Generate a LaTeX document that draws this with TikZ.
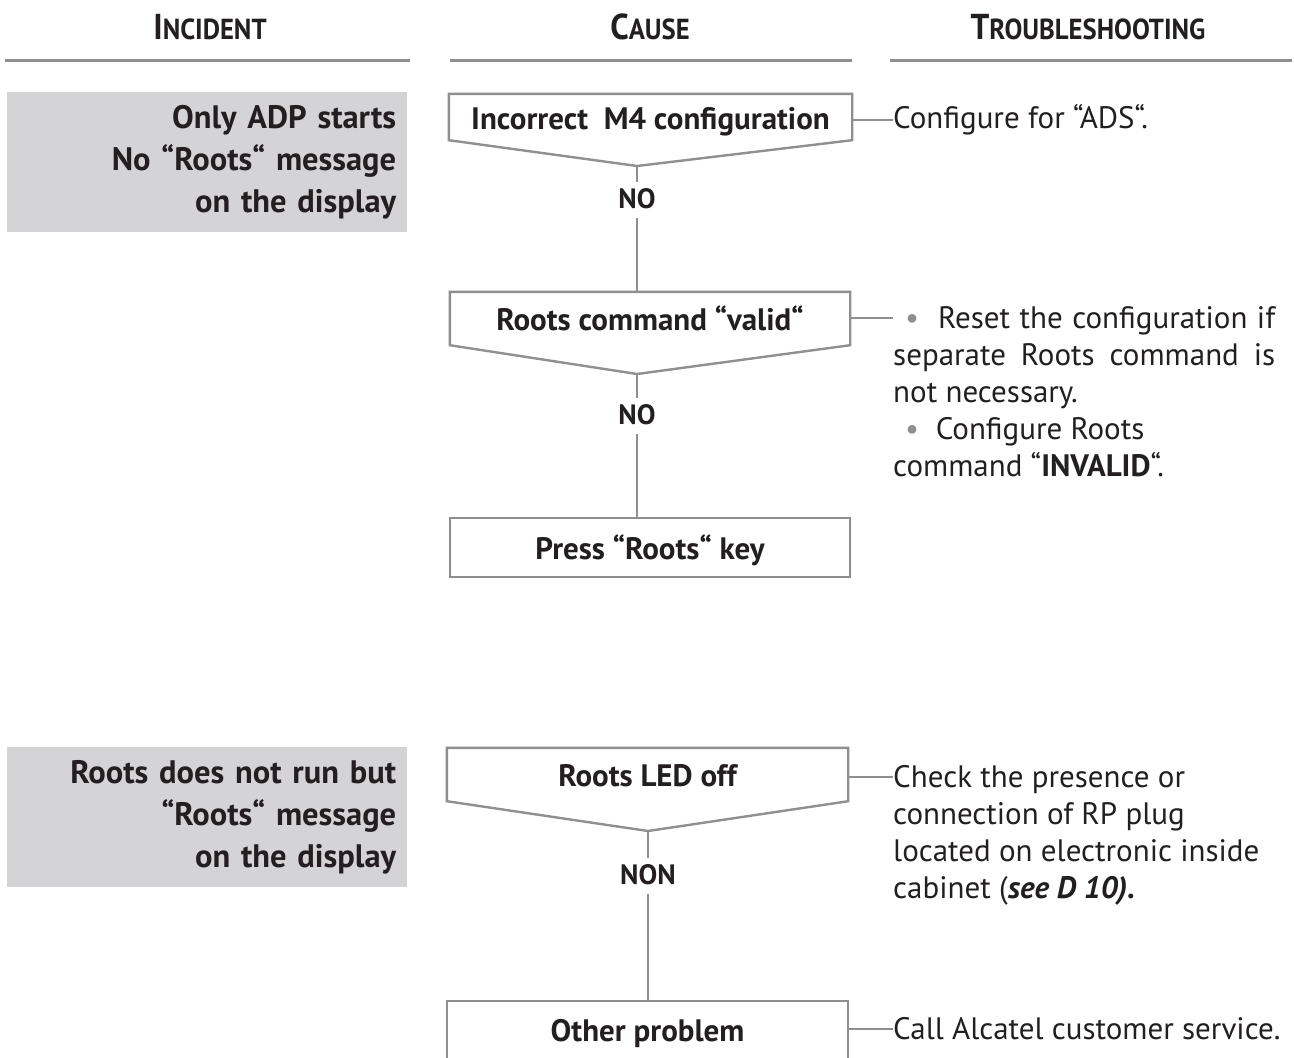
\documentclass[tikz,border=0pt]{standalone}
\usepackage{fontspec}
\usepackage{graphicx}
\setmainfont{PT Sans}
\usetikzlibrary{calc}
\definecolor{lg}{HTML}{8F8F91}
\definecolor{fillg}{HTML}{D4D4D6}
\definecolor{ink}{HTML}{231F20}
\newcommand{\fsz}[1]{\fontsize{#1}{#1}\selectfont}
\newcommand{\hdrtext}[2]{\scalebox{0.92}[1]{\bfseries\fsz{36}#1\fsz{29}#2}}
\begin{document}
\begin{tikzpicture}[x=1pt,y=-1pt,
  conn/.style={draw=lg,line width=2.4pt},
  boxline/.style={draw=lg,line width=2.4pt,line join=miter},
  rule/.style={draw=lg,line width=3pt},
  hdr/.style={text=ink,inner sep=0pt,anchor=base},
  inc/.style={fill=fillg,text=ink,font=\fontsize{32.5}{42}\selectfont\bfseries,align=right,text width=378pt,inner xsep=11pt,inner ysep=0pt,minimum height=140pt,anchor=north west},
  causebox/.style={text=ink,font=\fsz{31}\bfseries,inner sep=0pt,anchor=center,text height=26pt,text depth=2pt},
  lbl/.style={text=ink,font=\fsz{28}\bfseries,inner sep=0pt},
  tr/.style={text=ink,font=\fsz{31},inner sep=0pt},
  trblock/.style={text=ink,font=\fontsize{31}{37}\selectfont,inner sep=0pt,text width=382pt,align=justify,anchor=north west}
]
\useasboundingbox (0,0) rectangle (1294,1058);
% headers
\node[hdr] (h1) at (210,39) {\hdrtext{I}{NCIDENT}};
\node[hdr] (h2) at (650,39) {\hdrtext{C}{AUSE}};
\node[hdr] (h3) at (1088,39) {\hdrtext{T}{ROUBLESHOOTING}};
\draw[rule] (5,60) -- (410,60);
\draw[rule] (450,60) -- (852,60);
\draw[rule] (890,60) -- (1292,60);
% incidents
\node[inc] (i1) at (7,92) {Only ADP starts\\No “Roots“ message\\on the display};
\node[inc] (i2) at (7,747) {Roots does not run but\\“Roots“ message\\on the display};
% cause boxes (text)
\node[causebox,minimum width=403pt,minimum height=46pt] (c1) at (650.5,117) {Incorrect~ M4 configuration};
\node[causebox,minimum width=400pt,minimum height=53pt] (c2) at (650,318.5) {Roots command “valid“};
\node[causebox,minimum width=400pt,minimum height=59pt] (c3) at (650,547.5) {Press “Roots“ key};
\node[causebox,minimum width=401pt,minimum height=53pt] (c4) at (647.5,774.5) {Roots LED off};
\node[causebox,minimum width=401pt,minimum height=56pt] (c5) at (647.5,1029) {Other problem};
% tips
\coordinate (tip1) at (637,166);
\coordinate (tip2) at (637,374);
\coordinate (tip4) at (648,831);
% shapes
\draw[boxline] (c1.north west) -- (c1.north east) -- (c1.south east) -- (tip1) -- (c1.south west) -- cycle;
\draw[boxline] (c2.north west) -- (c2.north east) -- (c2.south east) -- (tip2) -- (c2.south west) -- cycle;
\draw[boxline] (c3.north west) rectangle (c3.south east);
\draw[boxline] (c4.north west) -- (c4.north east) -- (c4.south east) -- (tip4) -- (c4.south west) -- cycle;
\draw[boxline] ($(c5.south west)+(0,10)$) -- (c5.north west) -- (c5.north east) -- ($(c5.south east)+(0,10)$);
% labels
\node[lbl] (n1) at (637,199) {NO};
\node[lbl] (n2) at (637,415) {NO};
\node[lbl] (n4) at (648,875) {NON};
\draw[conn] (tip1) -- ($(n1.north)+(0,-7)$);
\draw[conn] ($(n1.south)+(0,9)$) -- (n1.south |- c2.north);
\draw[conn] (tip2) -- ($(n2.north)+(0,-7)$);
\draw[conn] ($(n2.south)+(0,9)$) -- (n2.south |- c3.north);
\draw[conn] (tip4) -- ($(n4.north)+(0,-7)$);
\draw[conn] ($(n4.south)+(0,9)$) -- (n4.south |- c5.north);
% troubleshooting texts
\node[tr,anchor=west] (t1) at (893,120) {Configure for “ADS“.};
\node[trblock] (t2) at (893,306) {\hspace*{12pt}{\color{lg}•}~ Reset the configuration if\linebreak separate Roots command is\linebreak not necessary.\\\hspace*{12pt}{\color{lg}•}~ Configure Roots\\command “\textbf{INVALID}“.};
\node[trblock] (t4) at (893,765) {Check the presence or\\connection of RP plug\\located on electronic inside\\cabinet (\textbf{\itshape see D 10).}};
\node[tr,anchor=west] (t5) at (893,1029) {Call Alcatel customer service.};
\coordinate (t2a) at (893,318);
\coordinate (t4a) at (893,777);
\draw[conn] (c1.east |- t1.west) -- (t1.west);
\draw[conn] (c2.east |- t2a) -- (t2a);
\draw[conn] (c4.east |- t4a) -- (t4a);
\draw[conn] (c5.east |- t5.west) -- (t5.west);
\end{tikzpicture}
\end{document}
